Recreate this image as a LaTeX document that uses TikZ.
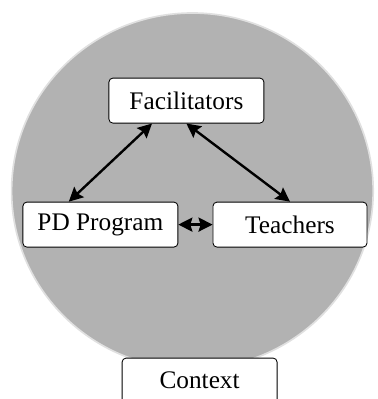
\documentclass[tikz,border=0pt]{standalone}
\usepackage{fontspec}
\setmainfont{Liberation Serif}
\usetikzlibrary{arrows.meta}

\begin{document}
\begin{tikzpicture}[
    box/.style={draw, fill=white, rounded corners=0.1cm, line width=0.6pt,
        minimum width=3.875cm, minimum height=1.125cm,
        font=\fontsize{18}{22}\selectfont},
    link/.style={line width=1.7pt, {Stealth[length=10pt,width=10pt,inset=1.5pt]}-{Stealth[length=10pt,width=10pt,inset=1.5pt]}}
]
\useasboundingbox (0.0, 0.0) rectangle (9.45, 9.975);
\clip (0.0, 0.0) rectangle (9.45, 9.975);

\fill[black!30, draw=black!12, line width=1.2pt]
    (4.81, 5.2) ellipse [x radius=4.52, y radius=4.45];

\node[box] (fac) at (4.66, 7.46) {Facilitators};
\node[box] (pd) at (2.51, 4.36) {PD Program};
\node[box, minimum width=3.85cm] (teach) at (7.25, 4.36) {Teachers};
\node[box] (ctx) at (4.99, 0.46) {Context};

\draw[link]
    ([xshift=-0.86cm]fac.south) -- ([xshift=-0.79cm]pd.north);
\draw[link]
    (fac.south) -- (teach.north);
\draw[link]
    (pd.east) -- (teach.west);
\end{tikzpicture}
\end{document}
